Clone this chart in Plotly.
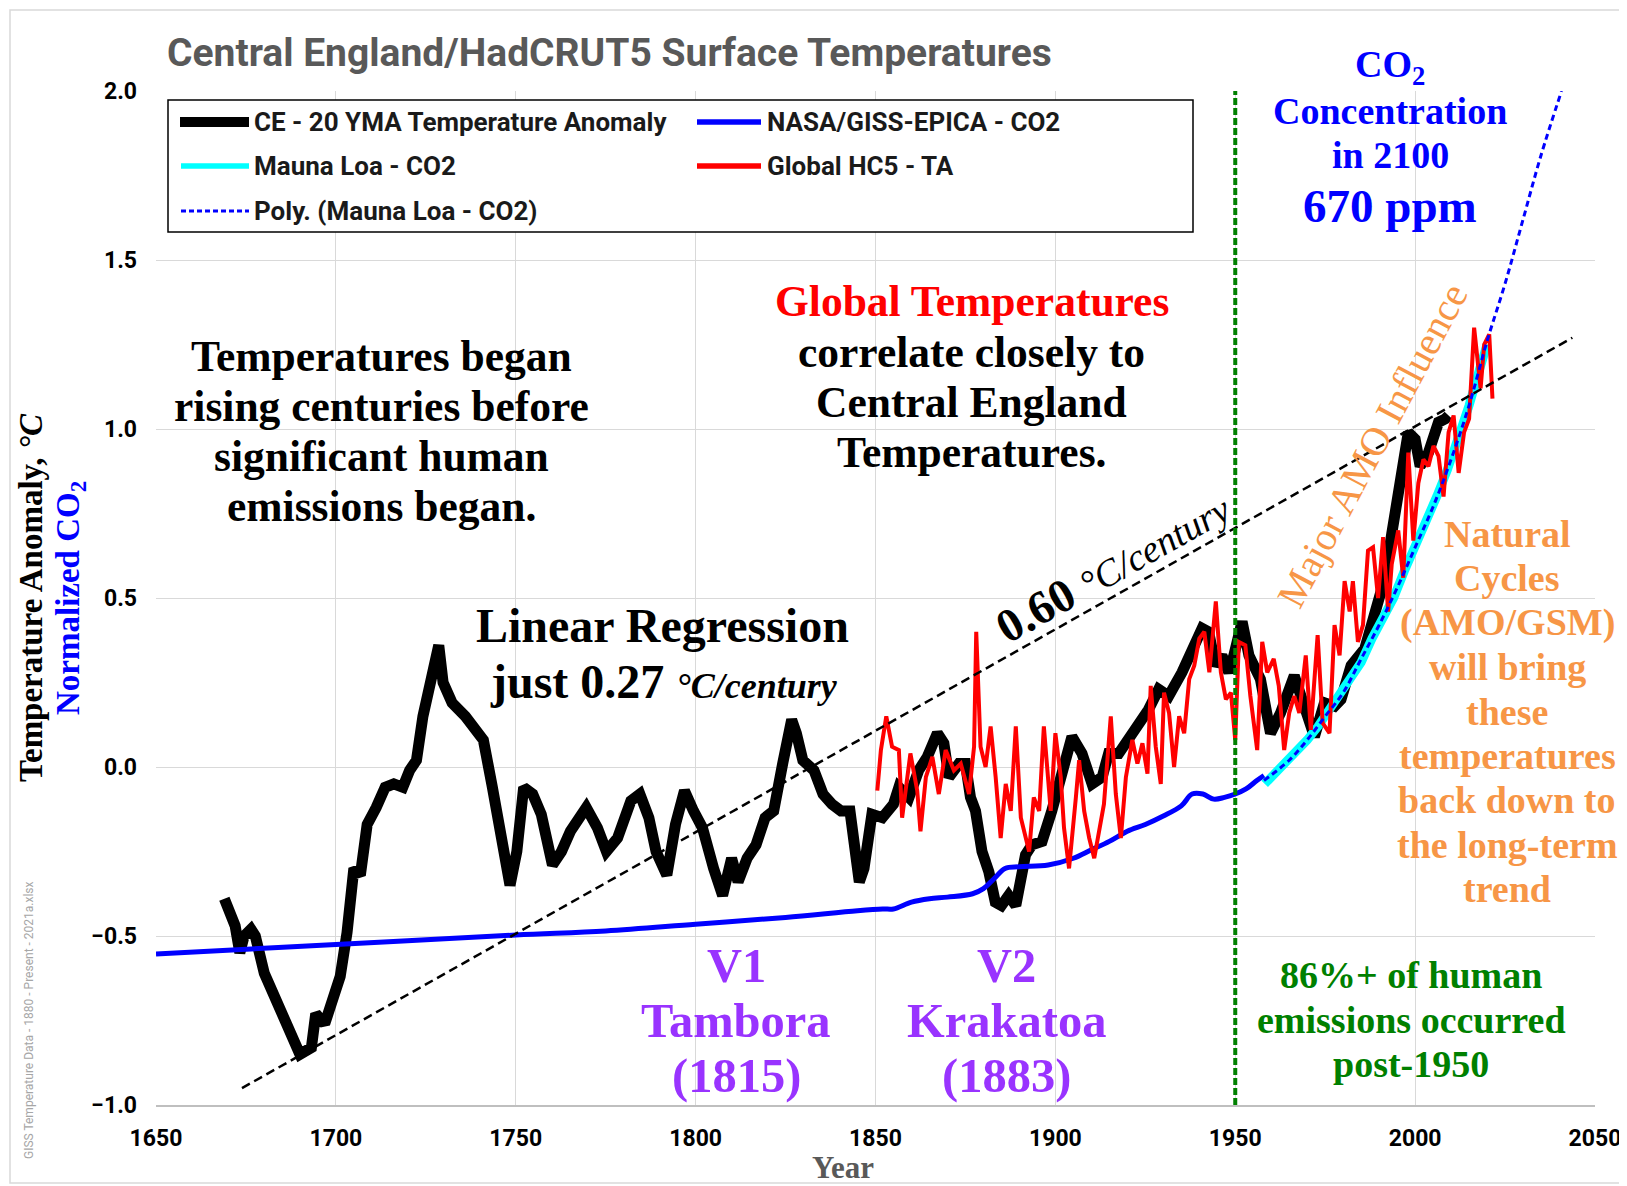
import plotly.graph_objects as go

# ---- data ----
ce_years = [1669.0, 1670.5, 1672.0, 1673.3, 1674.5, 1676.4, 1677.6, 1680.1, 1683.8, 1687.6,
            1690.0, 1693.2, 1694.4, 1696.9, 1698.8, 1701.2, 1703.1, 1705.0, 1706.8, 1708.7,
            1711.2, 1713.7, 1716.1, 1718.6, 1720.5, 1722.4, 1724.2, 1726.1, 1728.6, 1729.8,
            1732.3, 1736.0, 1739.1, 1741.0, 1743.5, 1746.0, 1748.4, 1750.3, 1752.2, 1754.7,
            1757.1, 1760.2, 1762.7, 1765.2, 1769.6, 1772.7, 1775.2, 1778.3, 1782.0, 1784.5,
            1787.0, 1789.0, 1792.0, 1794.4, 1796.9, 1799.4, 1801.9, 1805.0, 1807.5, 1810.0,
            1811.8, 1814.3, 1816.8, 1819.3, 1821.7, 1824.2, 1826.7, 1828.0, 1829.8, 1832.9,
            1835.4, 1837.9, 1840.4, 1842.9, 1845.5, 1846.8, 1849.0, 1851.9, 1855.0, 1856.5,
            1859.3, 1862.0, 1864.4, 1867.2, 1869.0, 1870.4, 1873.2, 1875.0, 1876.4, 1877.8,
            1879.6, 1881.5, 1883.3, 1885.0, 1887.0, 1889.0, 1890.5, 1891.7, 1893.5, 1896.3,
            1899.0, 1901.4, 1904.6, 1907.4, 1910.2, 1913.0, 1914.8, 1917.6, 1920.4, 1923.1,
            1925.9, 1928.7, 1931.5, 1935.2, 1938.0, 1940.8, 1942.6, 1944.5, 1946.3, 1948.2,
            1949.6, 1951.9, 1953.8, 1956.1, 1957.0, 1959.8, 1962.6, 1966.4, 1969.2, 1972.0,
            1974.8, 1977.6, 1979.4, 1982.2, 1986.0, 1988.8, 1991.6, 1993.5, 1995.8, 1998.1,
            2000.0, 2001.4, 2003.7, 2006.5, 2008.4, 2009.3]
ce_vals = [-0.39, -0.44, -0.47, -0.55, -0.50, -0.48, -0.50, -0.61, -0.70, -0.79,
           -0.85, -0.83, -0.73, -0.76, -0.70, -0.62, -0.49, -0.30, -0.32, -0.17,
           -0.12, -0.06, -0.05, -0.06, -0.01, 0.02, 0.15, 0.23, 0.36, 0.25,
           0.19, 0.15, 0.11, 0.08, -0.06, -0.19, -0.35, -0.25, -0.06, -0.08,
           -0.14, -0.29, -0.25, -0.19, -0.12, -0.18, -0.25, -0.21, -0.10, -0.08,
           -0.15, -0.25, -0.32, -0.17, -0.07, -0.13, -0.18, -0.30, -0.38, -0.27,
           -0.34, -0.27, -0.23, -0.15, -0.13, 0.01, 0.14, 0.10, 0.02, -0.01,
           -0.08, -0.11, -0.13, -0.13, -0.34, -0.30, -0.14, -0.15, -0.11, -0.06,
           -0.09, -0.01, 0.03, 0.10, 0.07, -0.03, 0.01, 0.01, -0.09, -0.13,
           -0.25, -0.31, -0.40, -0.41, -0.38, -0.41, -0.33, -0.26, -0.23, -0.22,
           -0.13, -0.03, 0.09, 0.04, -0.05, -0.03, 0.04, 0.04, 0.08, 0.13,
           0.17, 0.23, 0.21, 0.28, 0.35, 0.41, 0.40, 0.30, 0.33, 0.28,
           0.33, 0.43, 0.33, 0.29, 0.26, 0.10, 0.16, 0.27, 0.18, 0.09,
           0.19, 0.18, 0.20, 0.30, 0.35, 0.46, 0.56, 0.69, 0.87, 0.99,
           0.97, 0.89, 0.93, 1.02, 1.03, 1.04]

giss_years = [1650, 1700, 1750, 1775, 1800, 1825, 1845, 1852, 1855, 1860, 1865, 1870, 1877,
              1880, 1883, 1886, 1890, 1898, 1905, 1910, 1915, 1920, 1925, 1930, 1935,
              1938, 1941, 1944, 1947, 1950, 1953, 1956, 1958]
giss_vals = [-0.553, -0.525, -0.497, -0.485, -0.465, -0.445, -0.425, -0.42, -0.42, -0.40,
             -0.39, -0.385, -0.375, -0.36, -0.33, -0.30, -0.295, -0.29, -0.27, -0.245,
             -0.22, -0.19, -0.17, -0.145, -0.115, -0.08, -0.08, -0.095, -0.09, -0.08,
             -0.065, -0.04, -0.025]

ml_years = [1958.2, 1961, 1964, 1967, 1970, 1973, 1976, 1979, 1982, 1985, 1988, 1991,
            1994, 1997, 2000, 2003, 2006, 2009, 2012, 2015, 2018, 2020]
ml_vals = [-0.05, -0.02, 0.01, 0.04, 0.08, 0.12, 0.17, 0.21, 0.27, 0.31, 0.38, 0.44,
           0.50, 0.58, 0.65, 0.72, 0.80, 0.88, 0.97, 1.07, 1.18, 1.25]

hc5_years = [1850.5, 1851.5, 1853.0, 1854.6, 1856.5, 1857.4, 1859.7, 1861.6, 1862.5, 1864.0,
             1865.8, 1867.6, 1869.5, 1871.8, 1873.7, 1876.0, 1877.4, 1878.0, 1879.2, 1880.6,
             1882.0, 1883.4, 1884.8, 1886.2, 1887.6, 1889.0, 1890.4, 1892.7, 1894.0, 1895.5,
             1896.8, 1898.7, 1900.0, 1901.5, 1902.4, 1903.8, 1905.7, 1906.6, 1908.0, 1909.4,
             1910.8, 1912.2, 1913.5, 1915.4, 1916.8, 1918.2, 1919.6, 1921.4, 1922.8, 1924.2,
             1925.6, 1926.5, 1927.9, 1929.3, 1930.2, 1931.6, 1933.0, 1934.4, 1935.8, 1937.2,
             1938.6, 1940.0, 1941.4, 1942.8, 1944.6, 1946.0, 1947.4, 1948.8, 1950.0, 1951.0,
             1952.8, 1954.2, 1956.1, 1957.5, 1958.9, 1960.7, 1962.1, 1963.6, 1965.0, 1966.4,
             1967.8, 1969.6, 1971.0, 1972.9, 1974.3, 1976.2, 1977.6, 1979.0, 1980.4, 1981.8,
             1982.7, 1984.1, 1985.5, 1986.9, 1988.3, 1989.7, 1991.1, 1992.5, 1993.5, 1995.3,
             1996.7, 1998.1, 1999.5, 2000.9, 2002.3, 2003.7, 2005.1, 2006.5, 2007.9, 2009.3,
             2010.7, 2012.1, 2013.6, 2015.0, 2016.4, 2017.3, 2018.2, 2019.2, 2020.6, 2021.5]
hc5_vals = [-0.07, 0.05, 0.15, 0.06, 0.05, -0.15, 0.04, -0.07, -0.19, -0.03,
            0.03, -0.08, 0.05, -0.01, 0.01, -0.08, 0.06, 0.40, 0.06, 0.00,
            0.12, -0.03, -0.21, -0.05, -0.13, 0.12, -0.15, -0.25, -0.09, -0.13,
            0.12, -0.13, 0.10, -0.03, -0.18, -0.30, -0.09, 0.02, -0.13, -0.21,
            -0.27, -0.18, -0.11, 0.15, -0.08, -0.21, -0.03, 0.08, 0.01, 0.07,
            -0.02, 0.24, 0.06, -0.05, 0.22, 0.16, 0.00, 0.15, 0.10, 0.26,
            0.30, 0.38, 0.40, 0.28, 0.49, 0.28, 0.20, 0.22, 0.08, 0.37,
            0.36, 0.21, 0.05, 0.37, 0.28, 0.32, 0.24, 0.05, 0.16, 0.21,
            0.16, 0.33, 0.11, 0.39, 0.13, 0.10, 0.42, 0.33, 0.55, 0.46,
            0.55, 0.37, 0.42, 0.64, 0.65, 0.50, 0.68, 0.46, 0.60, 0.70,
            0.56, 0.93, 0.67, 0.84, 0.91, 0.89, 0.95, 0.92, 0.80, 0.99,
            1.04, 0.87, 0.99, 1.03, 1.30, 1.21, 1.12, 1.25, 1.28, 1.09]

poly_years = [1958, 1965, 1970, 1975, 1980, 1985, 1990, 1995, 2000, 2005, 2010, 2015,
              2020, 2025, 2030, 2035, 2040.7]
poly_vals = [-0.04, 0.02, 0.08, 0.15, 0.22, 0.32, 0.42, 0.53, 0.65, 0.77, 0.91, 1.07,
             1.26, 1.43, 1.62, 1.81, 2.00]

trend_years = [1673.9, 2043.7]
trend_vals = [-0.95, 1.27]

marker_1950 = [1950, 1950]
marker_1950_vals = [-1.0, 2.0]

x_ticks = [1650, 1700, 1750, 1800, 1850, 1900, 1950, 2000, 2050]
y_ticks = [-1.0, -0.5, 0.0, 0.5, 1.0, 1.5, 2.0]

# ---- page geometry (px, page coords; the page body adds an 8px offset) ----
PAGE_W, PAGE_H, OFF = 1627, 1186, 8
W, H = PAGE_W - OFF, PAGE_H - OFF
PLOT_L, PLOT_R, PLOT_T, PLOT_B = 156, 1595, 91, 1105
PW, PH = PLOT_R - PLOT_L, PLOT_B - PLOT_T

SANS = "Roboto, Open Sans, Arial, sans-serif"
SERIF = "Liberation Serif, Times New Roman, serif"
ORANGE = "#F79646"
PURPLE = "#9933FF"
GREEN = "#008000"


def px(x):
    return (x - PLOT_L) / PW


def py(y):
    return (PLOT_B - y) / PH


fig = go.Figure()

fig.add_trace(go.Scatter(x=ce_years, y=ce_vals, mode="lines", name="CE - 20 YMA Temperature Anomaly",
                         line=dict(color="black", width=11)))
fig.add_trace(go.Scatter(x=giss_years, y=giss_vals, mode="lines", name="NASA/GISS-EPICA - CO2",
                         line=dict(color="#0000FF", width=5, shape="spline")))
fig.add_trace(go.Scatter(x=ml_years, y=ml_vals, mode="lines", name="Mauna Loa - CO2",
                         line=dict(color="#00FFFF", width=9)))
fig.add_trace(go.Scatter(x=hc5_years, y=hc5_vals, mode="lines", name="Global HC5 - TA",
                         line=dict(color="#FF0000", width=4)))
fig.add_trace(go.Scatter(x=poly_years, y=poly_vals, mode="lines", name="Poly. (Mauna Loa - CO2)",
                         line=dict(color="#0000FF", width=3, dash="6px,4px", shape="spline")))
fig.add_trace(go.Scatter(x=trend_years, y=trend_vals, mode="lines", showlegend=False,
                         line=dict(color="black", width=2.5, dash="9px,5px")))
fig.add_trace(go.Scatter(x=marker_1950, y=marker_1950_vals, mode="lines", showlegend=False,
                         line=dict(color=GREEN, width=4, dash="7px,3px")))

# hand-built legend box (Excel style, two columns)
fig.add_shape(type="rect", xref="paper", yref="paper", x0=px(168), x1=px(1193), y0=py(232), y1=py(100),
              line=dict(color="black", width=1.5), fillcolor="white", layer="above")
legend_rows = [
    (180, 249, 122, "black", 10, "solid", "CE - 20 YMA Temperature Anomaly", 252),
    (697, 761, 122, "#0000FF", 5.5, "solid", "NASA/GISS-EPICA - CO2", 765),
    (181, 249, 166, "#00FFFF", 5.5, "solid", "Mauna Loa - CO2", 252),
    (697, 761, 166, "#FF0000", 5.5, "solid", "Global HC5 - TA", 765),
    (181, 249, 211, "#0000FF", 3, "5px,3px", "Poly. (Mauna Loa - CO2)", 252),
]
for x0, x1, yy, col, wid, dash, label, tx in legend_rows:
    fig.add_shape(type="line", xref="paper", yref="paper", x0=px(x0), x1=px(x1), y0=py(yy), y1=py(yy),
                  line=dict(color=col, width=wid, dash=dash), layer="above")
    fig.add_annotation(text=label, xref="paper", yref="paper", x=px(tx), y=py(yy), xanchor="left",
                       yanchor="middle", showarrow=False,
                       font=dict(family=SANS, size=26, color="#1a1a1a", weight="bold"))


def note(text, x, y, size, color="black", family=SERIF, bold=True, angle=0, anchor="center"):
    fig.add_annotation(text=text, xref="paper", yref="paper", x=px(x), y=py(y), xanchor=anchor,
                       yanchor="middle", showarrow=False, textangle=angle,
                       font=dict(family=family, size=size, color=color,
                                 weight="bold" if bold else "normal"))


# chart title
note("Central England/HadCRUT5 Surface Temperatures", 165, 53, 39, "#595959", SANS, anchor="left")

# axis titles and file stamp
note("Temperature Anomaly, <i>°C</i>", 31, 598, 33, angle=-90)
note("Normalized CO<sub>2</sub>", 70, 598, 33, "#0000FF", angle=-90)
note("Year", 843, 1167, 31, "#595959")
note("GISS Temperature Data - 1880 - Present - 2021a.xlsx", 29, 1020, 12, "#A6A6A6", SANS,
     bold=False, angle=-90)

# commentary
for i, line in enumerate(["Temperatures began", "rising centuries before", "significant human",
                          "emissions began."]):
    note(line, 381, 356 + i * 50, 43.5)
note("Global Temperatures", 972, 301, 43.5, "#FF0000")
for i, line in enumerate(["correlate closely to", "Central England", "Temperatures."]):
    note(line, 972, 352 + i * 50, 43.5)
note("Linear Regression", 662, 626, 48)
note("just 0.27 <i><span style='font-size:36px'>°C/century</span></i>", 664, 681, 48)
note("0.60 <i><span style='font-size:38px;font-weight:normal'>°C/century</span></i>", 1112, 567, 47,
     angle=-29.4)

note("CO<sub>2</sub>", 1390, 67, 38, "#0000FF")
note("Concentration", 1390, 111, 38, "#0000FF")
note("in 2100", 1390, 155, 38, "#0000FF")
note("670 ppm", 1390, 206, 47, "#0000FF")

note("Major AMO Influence", 1372, 445, 40, ORANGE, bold=False, angle=-62)
for i, line in enumerate(["Natural", "Cycles", "(AMO/GSM)", "will bring", "these", "temperatures",
                          "back down to", "the long-term", "trend"]):
    note(line, 1507, 534 + i * 44.4, 38, ORANGE)

for cx, lines in [(736, ["V1", "Tambora", "(1815)"]), (1006, ["V2", "Krakatoa", "(1883)"])]:
    for i, line in enumerate(lines):
        note(line, cx, 965 + i * 55.5, 48.5, PURPLE)

for i, line in enumerate(["86%+ of human", "emissions occurred", "post-1950"]):
    note(line, 1411, 975 + i * 44.5, 38, GREEN)

# thin outer frame of the Excel chart
fig.add_shape(type="rect", xref="paper", yref="paper", x0=px(10), x1=px(PAGE_W - 3), y0=py(PAGE_H - 3),
              y1=py(10), line=dict(color="#D9D9D9", width=1.5))

fig.update_layout(
    width=W, height=H,
    margin=dict(l=PLOT_L - OFF, r=PAGE_W - PLOT_R, t=PLOT_T - OFF, b=PAGE_H - PLOT_B),
    paper_bgcolor="white", plot_bgcolor="white",
    showlegend=False,
)
fig.update_xaxes(range=[1650, 2050], tickvals=x_ticks, showgrid=True, gridcolor="#D9D9D9", gridwidth=1.2,
                 zeroline=False, showline=True, linecolor="#BFBFBF", linewidth=1.5, ticks="",
                 automargin=False, ticklabelstandoff=12,
                 tickfont=dict(family=SANS, size=23, color="black", weight="bold"))
fig.update_yaxes(range=[-1.0, 2.0], tickvals=y_ticks, tickformat=".1f", showgrid=True, gridcolor="#D9D9D9",
                 gridwidth=1.2, zeroline=False, showline=False, ticks="", automargin=False,
                 ticklabelstandoff=18, tickfont=dict(family=SANS, size=23, color="black", weight="bold"))

fig.write_html("out.html")
